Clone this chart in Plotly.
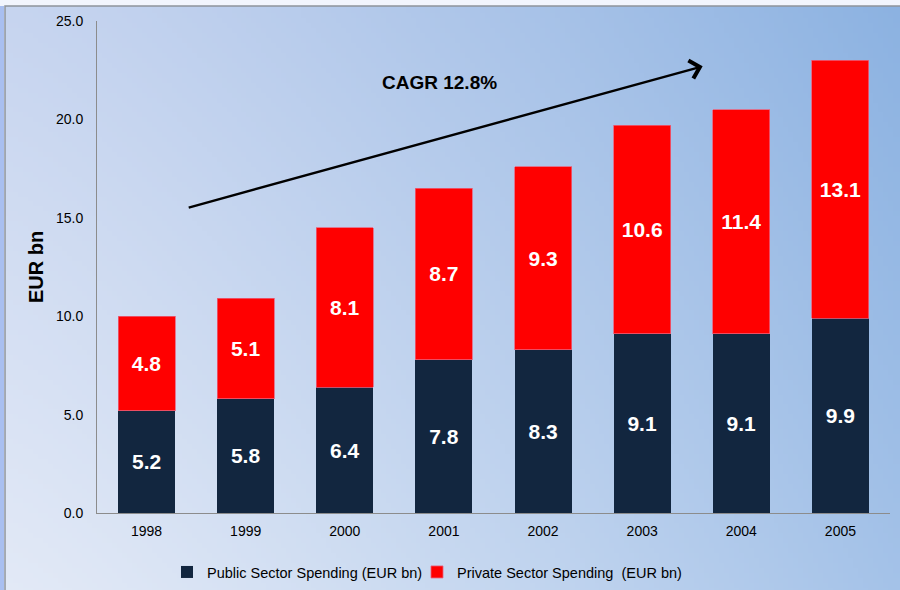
import base64, struct, zlib
import plotly.graph_objects as go

years = ["1998", "1999", "2000", "2001", "2002", "2003", "2004", "2005"]
public = [5.2, 5.8, 6.4, 7.8, 8.3, 9.1, 9.1, 9.9]
private = [4.8, 5.1, 8.1, 8.7, 9.3, 10.6, 11.4, 13.1]
y_ticks = [0, 5, 10, 15, 20, 25]
y_tick_labels = ["0.0", "5.0", "10.0", "15.0", "20.0", "25.0"]
cagr_label = "CAGR 12.8%"


def gradient_png(w, h, tl, tr, bl, br):
    rows = b""
    for j in range(h):
        v = j / (h - 1)
        row = b"\x00"
        for i in range(w):
            u = (i / (w - 1)) ** 1.25
            px = []
            for c in range(3):
                top = tl[c] + (tr[c] - tl[c]) * u
                bot = bl[c] + (br[c] - bl[c]) * u
                px.append(int(round(top + (bot - top) * v)))
            row += bytes(px)
        rows += row

    def chunk(t, d):
        c = struct.pack(">I", len(d)) + t + d
        return c + struct.pack(">I", zlib.crc32(t + d) & 0xFFFFFFFF)

    png = b"\x89PNG\r\n\x1a\n"
    png += chunk(b"IHDR", struct.pack(">IIBBBBB", w, h, 8, 2, 0, 0, 0))
    png += chunk(b"IDAT", zlib.compress(rows, 9))
    png += chunk(b"IEND", b"")
    return "data:image/png;base64," + base64.b64encode(png).decode()


bg = gradient_png(180, 118, (198, 212, 239), (140, 178, 225), (226, 233, 246), (164, 194, 232))

W, H = 900, 590
L, R, T, B = 97, 10, 21, 77
pw, ph = W - L - R, H - T - B

font_family = "Liberation Sans, Arial, sans-serif"

fig = go.Figure()
fig.add_trace(go.Bar(
    x=years, y=public, name="Public Sector Spending (EUR bn)",
    marker=dict(color="#12263f", line=dict(width=0)),
    text=[f"{v:.1f}" for v in public], textposition="inside",
    insidetextanchor="middle", textangle=0, constraintext="none",
    textfont=dict(color="white", size=21, family=font_family, weight="bold"),
    hoverinfo="skip", legend="legend",
))
fig.add_trace(go.Bar(
    x=years, y=private, name="Private Sector Spending\u00a0\u00a0(EUR bn)",
    marker=dict(color="#ff0000", line=dict(width=0.8, color="#e8607a")),
    text=[f"{v:.1f}" for v in private], textposition="inside",
    insidetextanchor="middle", textangle=0, constraintext="none",
    textfont=dict(color="white", size=21, family=font_family, weight="bold"),
    hoverinfo="skip", legend="legend2",
))

# arrow (in data coordinates)
fig.add_annotation(
    x=5.61, y=22.7, ax=0.41, ay=15.5, xref="x", yref="y", axref="x", ayref="y",
    text="", showarrow=True, arrowhead=4, arrowsize=1.5, arrowwidth=2.4,
    arrowcolor="black",
)
fig.add_annotation(
    x=2.96, y=21.85, xref="x", yref="y", text=cagr_label, showarrow=False,
    font=dict(size=19, color="black", family=font_family, weight="bold"),
)

fig.add_layout_image(
    source=bg, xref="paper", yref="paper",
    x=(5 - L) / pw, y=1 + (T - 6) / ph, sizex=(W - 5) / pw, sizey=(H - 6) / ph,
    xanchor="left", yanchor="top", sizing="stretch", layer="below",
)
# left blue strip and gray frame
fig.add_shape(type="rect", xref="paper", yref="paper",
              x0=-L / pw, x1=(4 - L) / pw, y0=-B / ph - 0.01, y1=1 + (T - 6) / ph,
              fillcolor="#a9bff0", line=dict(width=0), layer="below")
fig.add_shape(type="rect", xref="paper", yref="paper",
              x0=(5 - L) / pw, x1=(W + 5 - L) / pw, y0=-(B + 5) / ph, y1=1 + (T - 6) / ph,
              fillcolor="rgba(0,0,0,0)", line=dict(width=1.5, color="#8f949c"), layer="below")

legend_common = dict(orientation="h", xanchor="left", y=-0.12, yanchor="middle",
                     font=dict(size=14.5, color="black", family=font_family),
                     bgcolor="rgba(0,0,0,0)", itemwidth=30)

fig.update_layout(
    width=W, height=H,
    margin=dict(l=L, r=R, t=T, b=B, autoexpand=False),
    barmode="stack", bargap=0.425,
    paper_bgcolor="#f2f5fd", plot_bgcolor="rgba(0,0,0,0)",
    font=dict(family=font_family, color="black"),
    showlegend=True,
    legend=dict(x=(167 - L) / pw, **legend_common),
    legend2=dict(x=(417 - L) / pw, **legend_common),
    xaxis=dict(type="category", range=[-0.5, 7.5], showline=True, linecolor="#8c8c8c",
               linewidth=1, showgrid=False, ticks="", ticklabelstandoff=5,
               tickfont=dict(size=14, color="black"), automargin=False),
    yaxis=dict(range=[0, 25], tickvals=y_ticks, ticktext=y_tick_labels,
               showline=True, linecolor="#8c8c8c", linewidth=1, showgrid=False,
               zeroline=False, ticks="", ticklabelstandoff=10,
               tickfont=dict(size=14, color="black"), automargin=False,
               title=dict(text="<b>EUR bn</b>", font=dict(size=20, color="black"), standoff=6)),
)

fig.write_html("out.html", config={"displayModeBar": False},
               post_script="document.body.style.margin='0';document.body.style.overflow='hidden';")
